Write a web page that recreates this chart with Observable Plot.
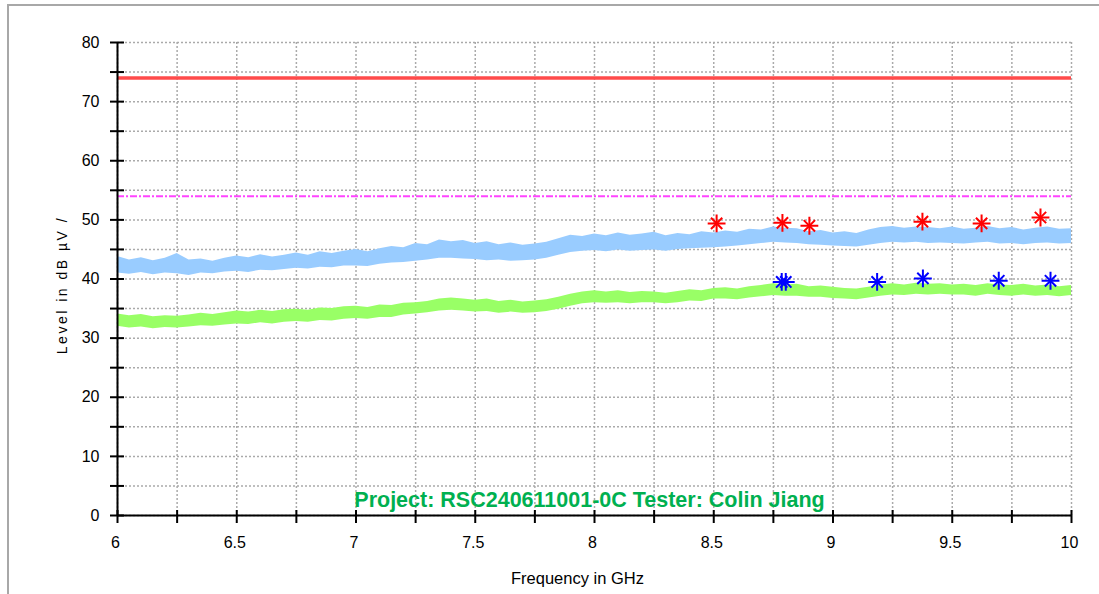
<!DOCTYPE html>
<html>
<head>
<meta charset="utf-8">
<script src="https://cdn.jsdelivr.net/npm/d3@7"></script>
<script src="https://cdn.jsdelivr.net/npm/@observablehq/plot@0.6"></script>
<style>
  html, body { margin: 0; padding: 0; background: #fff; }
  #wrap { position: relative; width: 1099px; height: 594px; overflow: hidden; }
  #wrap .bt { position: absolute; left: 7px; top: 4px; width: 1092px; height: 2px; background: #a8a8a8; }
  #wrap .bl { position: absolute; left: 7px; top: 4px; width: 2px; height: 590px; background: #a8a8a8; }
  #wrap svg { position: absolute; left: 0; top: 0; }
</style>
</head>
<body>
<div id="wrap"><div class="bt"></div><div class="bl"></div></div>
<script>
// Frequencies (GHz) at which the trace envelopes were read
const freqs = [6.00,6.05,6.10,6.15,6.20,6.25,6.30,6.35,6.40,6.45,6.50,6.55,6.60,6.65,6.70,6.75,6.80,6.85,6.90,6.95,
               7.00,7.05,7.10,7.15,7.20,7.25,7.30,7.35,7.40,7.45,7.50,7.55,7.60,7.65,7.70,7.75,7.80,7.85,7.90,7.95,
               8.00,8.05,8.10,8.15,8.20,8.25,8.30,8.35,8.40,8.45,8.50,8.55,8.60,8.65,8.70,8.75,8.80,8.85,8.90,8.95,
               9.00,9.05,9.10,9.15,9.20,9.25,9.30,9.35,9.40,9.45,9.50,9.55,9.60,9.65,9.70,9.75,9.80,9.85,9.90,9.95,10.00];
// Peak detector trace (light blue): upper / lower edge of the noisy band, dBµV
const peakHi = [43.8,43.2,43.6,43.1,43.5,44.3,43.2,43.4,43.0,43.5,43.9,43.6,44.1,43.7,44.0,44.4,44.0,44.6,44.3,44.7,
                45.0,44.6,45.1,45.5,45.3,46.0,45.8,46.6,46.3,46.5,46.0,46.3,45.8,46.1,45.7,45.9,46.2,46.8,47.4,47.2,
                47.6,47.3,47.8,47.4,47.6,47.9,47.3,47.7,47.5,48.0,47.8,48.1,47.9,48.4,48.3,48.8,48.6,48.5,48.0,48.2,
                47.8,48.0,47.7,48.3,48.7,48.9,48.6,48.8,48.7,48.5,48.8,48.4,48.6,48.9,48.5,48.7,48.3,48.6,48.8,48.4,48.5];
const peakLo = [41.0,40.8,41.1,40.7,41.0,40.9,40.6,41.0,40.9,41.2,41.3,41.1,41.5,41.4,41.6,41.8,41.7,42.0,41.9,42.2,
                42.2,42.1,42.5,42.7,42.8,43.0,43.2,43.5,43.5,43.4,43.3,43.1,43.2,43.0,43.1,43.2,43.5,44.0,44.5,44.7,
                44.8,44.6,44.9,44.7,44.8,44.9,44.7,45.0,45.1,45.2,45.3,45.4,45.6,45.8,46.0,46.2,46.1,46.0,45.8,45.7,
                45.6,45.5,45.4,45.7,46.0,46.2,46.1,46.2,46.0,46.1,46.0,45.9,46.1,46.2,45.9,46.0,45.8,46.0,46.1,45.9,46.0];
// Average detector trace (light green)
const avgHi = [34.1,33.8,34.0,33.6,33.8,33.7,33.9,34.2,34.0,34.3,34.6,34.4,34.7,34.5,34.8,34.9,34.7,35.1,35.0,35.3,
               35.4,35.2,35.6,35.5,35.9,36.0,36.2,36.6,36.8,36.6,36.4,36.6,36.2,36.4,36.1,36.3,36.5,36.9,37.4,37.8,
               38.0,37.8,38.0,37.7,37.9,37.8,37.6,37.9,38.2,38.0,38.4,38.5,38.3,38.7,38.9,39.2,39.0,39.1,38.7,38.8,
               38.6,38.4,38.3,38.6,39.0,39.2,39.0,39.3,39.1,39.2,39.0,39.1,38.9,39.2,39.0,38.9,39.1,38.8,39.0,38.7,38.9];
const avgLo = [32.0,31.7,31.9,31.6,31.8,31.7,31.9,32.1,32.0,32.2,32.4,32.3,32.6,32.4,32.7,32.8,32.7,33.0,32.9,33.2,
               33.3,33.2,33.5,33.5,33.9,34.1,34.3,34.6,34.7,34.6,34.4,34.5,34.2,34.4,34.2,34.3,34.5,34.9,35.4,35.8,
               36.0,35.9,36.0,35.8,36.0,36.0,35.8,36.0,36.3,36.2,36.6,36.6,36.5,36.8,37.0,37.2,37.1,37.1,36.9,36.9,
               36.7,36.6,36.5,36.8,37.1,37.3,37.2,37.4,37.3,37.4,37.3,37.3,37.1,37.4,37.2,37.1,37.3,37.1,37.2,37.0,37.2];
// Limit lines
const peakLimit = [74];
const avgLimit  = [54];
// Final measurement markers
const peakMarkFreq  = [8.512, 8.788, 8.901, 9.375, 9.623, 9.870];
const peakMarkLevel = [49.4, 49.5, 49.0, 49.7, 49.4, 50.4];
const avgMarkFreq   = [8.785, 8.802, 9.185, 9.377, 9.695, 9.912];
const avgMarkLevel  = [39.5, 39.5, 39.5, 40.1, 39.7, 39.7];
// Ticks
const yMinorTicks = [0, 5, 10, 15, 20, 25, 30, 35, 40, 45, 50, 55, 60, 65, 70, 75, 80];
const yLabelTicks = [0, 10, 20, 30, 40, 50, 60, 70, 80];
const xMinorTicks = [6, 6.25, 6.5, 6.75, 7, 7.25, 7.5, 7.75, 8, 8.25, 8.5, 8.75, 9, 9.25, 9.5, 9.75, 10];
const xLabelTicks = [6, 6.5, 7, 7.5, 8, 8.5, 9, 9.5, 10];
// Texts
const xTitle = "Frequency in GHz";
const yTitle = "Level in dB µV /";
const note = "Project: RSC240611001-0C Tester: Colin Jiang";

const peakData = freqs.map((f, i) => ({f, lo: peakLo[i], hi: peakHi[i]}));
const avgData  = freqs.map((f, i) => ({f, lo: avgLo[i], hi: avgHi[i]}));
const peakMarks = peakMarkFreq.map((f, i) => ({f, v: peakMarkLevel[i]}));
const avgMarks  = avgMarkFreq.map((f, i) => ({f, v: avgMarkLevel[i]}));

const gridStyle = {stroke: "#aaaaaa", strokeOpacity: 1, strokeWidth: 1.5, strokeDasharray: "2,2"};

const chart = Plot.plot({
  width: 1099,
  height: 594,
  marginLeft: 117,
  marginRight: 28,
  marginTop: 42,
  marginBottom: 79,
  x: {domain: [6, 10], axis: null},
  y: {domain: [0, 80], axis: null},
  style: {fontFamily: "'Liberation Sans', Arial, sans-serif", fontSize: "16px", background: "transparent", color: "#000"},
  marks: [
    Plot.ruleY(yMinorTicks, gridStyle),
    Plot.ruleX(xMinorTicks, gridStyle),
    Plot.areaY(peakData, {x: "f", y1: "lo", y2: "hi", fill: "#99ccff", fillOpacity: 1}),
    Plot.areaY(avgData, {x: "f", y1: "lo", y2: "hi", fill: "#99ff66", fillOpacity: 1}),
    Plot.ruleY(peakLimit, {stroke: "#ff4b4b", strokeWidth: 3.5}),
    Plot.ruleY(avgLimit, {stroke: "#ff44ff", strokeWidth: 2, strokeDasharray: "7,2,2,2"}),
    Plot.dot(peakMarks, {x: "f", y: "v", symbol: "plus", r: 5.8, stroke: "#ff0000", strokeWidth: 2}),
    Plot.dot(peakMarks, {x: "f", y: "v", symbol: "times", r: 5.2, stroke: "#ff0000", strokeWidth: 2}),
    Plot.dot(avgMarks, {x: "f", y: "v", symbol: "plus", r: 5.8, stroke: "#0000ff", strokeWidth: 2}),
    Plot.dot(avgMarks, {x: "f", y: "v", symbol: "times", r: 5.2, stroke: "#0000ff", strokeWidth: 2}),
    // axis lines
    Plot.ruleX([6], {stroke: "#000", strokeWidth: 2}),
    Plot.ruleY([0], {stroke: "#000", strokeWidth: 2}),
    // y ticks (crossing the axis) and labels
    Plot.axisY({ticks: yMinorTicks, tickSize: 14, dx: 7, tickFormat: () => "", label: null, stroke: "#000", strokeWidth: 2}),
    Plot.axisY({ticks: yLabelTicks, tickSize: 0, tickPadding: 18, label: null, fontSize: 16, fill: "#000", tickFormat: d => String(d)}),
    // x ticks and labels
    Plot.axisX({ticks: xMinorTicks, tickSize: 13, dy: -5, tickFormat: () => "", label: null, stroke: "#000", strokeWidth: 2}),
    Plot.axisX({ticks: xLabelTicks, tickSize: 0, tickPadding: 21, label: null, fontSize: 16, fill: "#000", dx: -2, tickFormat: d => String(d)}),
    // titles
    Plot.text([xTitle], {frameAnchor: "bottom", dy: 63, dx: -17, lineAnchor: "middle", fontSize: 16.5, fontFamily: "'Liberation Sans Narrow', 'Liberation Sans', sans-serif"}),
    Plot.text([yTitle], {frameAnchor: "left", rotate: -90, dx: -55, dy: 6, textAnchor: "middle", lineAnchor: "middle", fontSize: 14}),
    Plot.text([note], {frameAnchor: "bottom", lineAnchor: "bottom", dy: -9, dx: -5, fontSize: 21.5, fontWeight: "bold", fill: "#00b050"})
  ]
});

d3.select(chart).selectAll("text")
  .filter(function () { return this.textContent === yTitle; })
  .attr("letter-spacing", "2.5");

document.getElementById("wrap").appendChild(chart);
</script>
</body>
</html>
